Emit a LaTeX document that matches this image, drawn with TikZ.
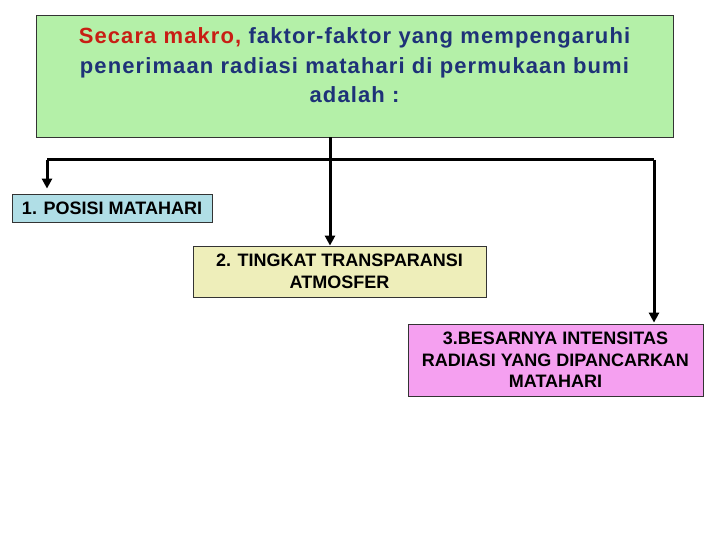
\documentclass[tikz,border=0pt]{standalone}
\usepackage{fontspec}
\setmainfont{Liberation Sans}
\newfontfamily\spacedfont[LetterSpace=5]{Liberation Sans}
\usetikzlibrary{arrows.meta}
\definecolor{topgreen}{RGB}{180,240,168}
\definecolor{boxblue}{RGB}{176,222,230}
\definecolor{boxyellow}{RGB}{238,238,186}
\definecolor{boxpink}{RGB}{245,160,240}
\definecolor{txtblue}{RGB}{30,50,120}
\definecolor{txtred}{RGB}{200,30,20}
\tikzset{
  box/.style={draw=black!80, line width=0.8pt, inner sep=0pt, align=center},
  boxtxt/.style={font=\bfseries\fontsize{18}{21.5}\selectfont, align=center},
  conn/.style={line width=3pt, black},
  arr/.style={conn, -{Triangle[length=10pt,width=10pt]}}
}
\begin{document}
\begin{tikzpicture}[x=1pt,y=-1pt]
\useasboundingbox (0,0) rectangle (720,540);
\node[box, fill=topgreen, minimum width=637pt, minimum height=122pt] (top) at (354.5,76) {};
\node[align=center, font=\spacedfont\bfseries\fontsize{22}{29.5}\selectfont, text=txtblue, anchor=north] (toptext) at (354.5,24.5)
  {\textcolor{txtred}{Secara makro,} faktor-faktor yang mempengaruhi\\penerimaan radiasi matahari di permukaan bumi\\adalah :};
\node[box, fill=boxblue, minimum width=200pt, minimum height=28pt, boxtxt] (b1) at (112,208) {1. POSISI MATAHARI};
\node[box, fill=boxyellow, minimum width=293pt, minimum height=51pt, boxtxt] (b2) at (339.5,271.5) {2. TINGKAT TRANSPARANSI\\ATMOSFER};
\node[box, fill=boxpink, minimum width=295pt, minimum height=72pt, boxtxt] (b3) at (555.5,360) {3.BESARNYA INTENSITAS\\RADIASI YANG DIPANCARKAN\\MATAHARI};
\coordinate (j) at (330,160);
\coordinate (jl) at (47,160);
\coordinate (jr) at (654,160);
\draw[conn] (jl) -- (jr);
\draw[arr] (top.south -| j) -- (b2.north -| j);
\draw[arr, shorten >=5pt] (jl) -- (b1.north -| jl);
\draw[arr, shorten >=1pt] (jr) -- (b3.north -| jr);
\end{tikzpicture}
\end{document}
